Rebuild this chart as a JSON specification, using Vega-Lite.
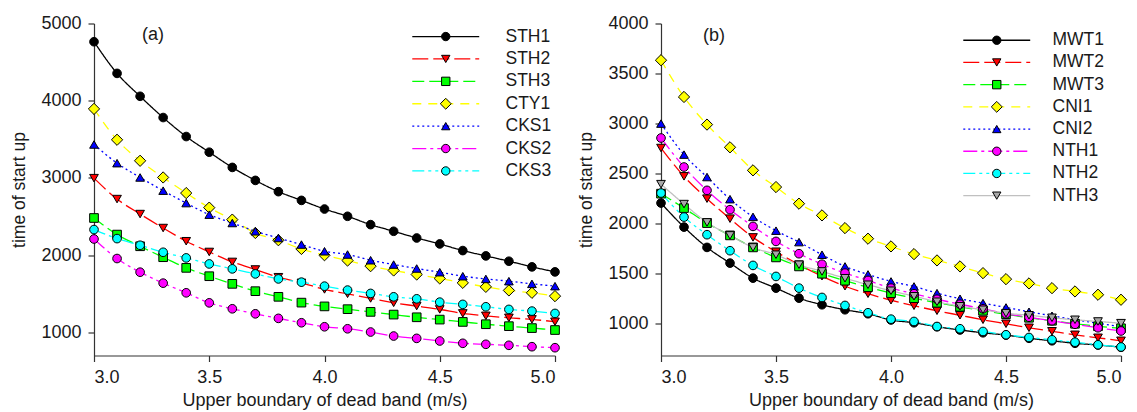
{
 "$schema": "https://vega.github.io/schema/vega-lite/v6.json",
 "padding": {"left": 10, "top": 14.5, "right": 5, "bottom": 3},
 "background": "white",
 "spacing": 106,
 "bounds": "flush",
 "config": {
  "font": "Liberation Sans",
  "view": {"stroke": null},
  "axis": {"grid": false, "domainColor": "#333333", "domainWidth": 1.2, "tickColor": "#333333", "tickWidth": 1.2, "tickSize": 6, "labelFontSize": 18, "labelColor": "#1a1a1a", "titleFontSize": 17.5, "titleFontWeight": "normal", "titleColor": "#1a1a1a", "labelPadding": 7, "titlePadding": 12},
  "axisX": {"titlePadding": 5, "titleFontSize": 18},
  "legend": {"labelFontSize": 17.5, "labelColor": "#1a1a1a", "padding": 0},
  "text": {"font": "Liberation Sans"}
 },
 "resolve": {
  "scale": {"stroke": "independent", "strokeDash": "independent", "fill": "independent", "shape": "independent"},
  "legend": {"stroke": "independent", "strokeDash": "independent", "fill": "independent", "shape": "independent"}
 },
 "hconcat": [
  {
   "width": 461,
   "height": 332,
   "data": {"values": [
    {"x": 3.0, "STH1": 4764, "STH2": 2997, "STH3": 2481, "CTY1": 3894, "CKS1": 3433, "CKS2": 2209, "CKS3": 2331},
    {"x": 3.1, "STH1": 4354, "STH2": 2726, "STH3": 2266, "CTY1": 3494, "CKS1": 3191, "CKS2": 1956, "CKS3": 2214},
    {"x": 3.2, "STH1": 4057, "STH2": 2532, "STH3": 2115, "CTY1": 3222, "CKS1": 3006, "CKS2": 1779, "CKS3": 2128},
    {"x": 3.3, "STH1": 3782, "STH2": 2351, "STH3": 1973, "CTY1": 3006, "CKS1": 2835, "CKS2": 1637, "CKS3": 2037},
    {"x": 3.4, "STH1": 3536, "STH2": 2180, "STH3": 1835, "CTY1": 2804, "CKS1": 2674, "CKS2": 1512, "CKS3": 1964},
    {"x": 3.5, "STH1": 3333, "STH2": 2041, "STH3": 1727, "CTY1": 2615, "CKS1": 2524, "CKS2": 1382, "CKS3": 1886},
    {"x": 3.6, "STH1": 3136, "STH2": 1912, "STH3": 1628, "CTY1": 2460, "CKS1": 2416, "CKS2": 1305, "CKS3": 1822},
    {"x": 3.7, "STH1": 2968, "STH2": 1814, "STH3": 1533, "CTY1": 2287, "CKS1": 2309, "CKS2": 1240, "CKS3": 1757},
    {"x": 3.8, "STH1": 2822, "STH2": 1714, "STH3": 1460, "CTY1": 2193, "CKS1": 2222, "CKS2": 1181, "CKS3": 1692},
    {"x": 3.9, "STH1": 2709, "STH2": 1641, "STH3": 1385, "CTY1": 2080, "CKS1": 2137, "CKS2": 1124, "CKS3": 1650},
    {"x": 4.0, "STH1": 2597, "STH2": 1556, "STH3": 1336, "CTY1": 1999, "CKS1": 2050, "CKS2": 1072, "CKS3": 1598},
    {"x": 4.1, "STH1": 2503, "STH2": 1499, "STH3": 1300, "CTY1": 1930, "CKS1": 2008, "CKS2": 1046, "CKS3": 1547},
    {"x": 4.2, "STH1": 2395, "STH2": 1439, "STH3": 1265, "CTY1": 1857, "CKS1": 1934, "CKS2": 1004, "CKS3": 1504},
    {"x": 4.3, "STH1": 2309, "STH2": 1382, "STH3": 1230, "CTY1": 1801, "CKS1": 1878, "CKS2": 952, "CKS3": 1460},
    {"x": 4.4, "STH1": 2222, "STH2": 1340, "STH3": 1195, "CTY1": 1749, "CKS1": 1827, "CKS2": 922, "CKS3": 1434},
    {"x": 4.5, "STH1": 2145, "STH2": 1297, "STH3": 1165, "CTY1": 1698, "CKS1": 1779, "CKS2": 888, "CKS3": 1391},
    {"x": 4.6, "STH1": 2059, "STH2": 1245, "STH3": 1135, "CTY1": 1641, "CKS1": 1727, "CKS2": 858, "CKS3": 1362},
    {"x": 4.7, "STH1": 1990, "STH2": 1214, "STH3": 1105, "CTY1": 1589, "CKS1": 1692, "CKS2": 845, "CKS3": 1331},
    {"x": 4.8, "STH1": 1921, "STH2": 1188, "STH3": 1080, "CTY1": 1543, "CKS1": 1663, "CKS2": 832, "CKS3": 1297},
    {"x": 4.9, "STH1": 1848, "STH2": 1168, "STH3": 1055, "CTY1": 1512, "CKS1": 1628, "CKS2": 814, "CKS3": 1275},
    {"x": 5.0, "STH1": 1783, "STH2": 1137, "STH3": 1030, "CTY1": 1469, "CKS1": 1598, "CKS2": 801, "CKS3": 1245}
   ]},
   "transform": [{"fold": ["STH1", "STH2", "STH3", "CTY1", "CKS1", "CKS2", "CKS3"], "as": ["series", "value"]}],
   "layer": [
    {
     "mark": {"type": "line", "interpolate": "monotone", "strokeWidth": 1.3},
     "encoding": {
      "x": {"field": "x", "type": "quantitative", "scale": {"domain": [3, 5], "nice": false, "zero": false}, "axis": {"values": [3, 3.5, 4, 4.5, 5], "format": ".1f", "title": "Upper boundary of dead band (m/s)"}},
      "y": {"field": "value", "type": "quantitative", "scale": {"domain": [700, 5000], "nice": false, "zero": false}, "axis": {"values": [1000, 2000, 3000, 4000, 5000], "format": "d", "title": "time of start up"}},
      "stroke": {"field": "series", "type": "nominal",
       "scale": {"domain": ["STH1", "STH2", "STH3", "CTY1", "CKS1", "CKS2", "CKS3"], "range": ["#000000", "#ff0000", "#00ff00", "#ffff00", "#0000ff", "#ff00ff", "#00ffff"]},
       "legend": {"orient": "none", "legendX": 343, "legendY": 4.3, "title": null, "symbolType": "M-8,0H8", "symbolSize": 70, "symbolStrokeWidth": 1.3, "labelOpacity": 0, "labelFontSize": 17.5, "labelOffset": 51, "rowPadding": 3.4, "padding": 0}},
      "strokeDash": {"field": "series", "type": "nominal",
       "scale": {"domain": ["STH1", "STH2", "STH3", "CTY1", "CKS1", "CKS2", "CKS3"], "range": [[1, 0], [16, 5], [12, 5], [9, 7], [2, 3], [14, 4, 3, 4], [12, 4, 3, 4, 3, 4]]}}
     }
    },
    {
     "mark": {"type": "point", "filled": true, "size": 75, "stroke": "black", "strokeWidth": 1, "opacity": 1},
     "encoding": {
      "x": {"field": "x", "type": "quantitative"},
      "y": {"field": "value", "type": "quantitative"},
      "fill": {"field": "series", "type": "nominal", "sort": null,
       "scale": {"range": ["#000000", "#ff0000", "#00ff00", "#ffff00", "#0000ff", "#ff00ff", "#00ffff"]},
       "legend": {"orient": "none", "legendX": 343, "legendY": 4.3, "title": null, "symbolSize": 70, "symbolStrokeColor": "black", "symbolStrokeWidth": 1, "symbolOpacity": 1, "labelFontSize": 17.5, "labelColor": "#1a1a1a", "labelOffset": 51, "rowPadding": 3.4, "padding": 0}},
      "shape": {"field": "series", "type": "nominal", "sort": null,
       "scale": {"range": ["circle", "triangle-down", "square", "M0,-1.3L1.3,0L0,1.3L-1.3,0Z", "triangle-up", "circle", "circle"]}}
     }
    },
    {
     "data": {"values": [{"label": "(a)"}]},
     "mark": {"type": "text", "fontSize": 18, "color": "#1a1a1a", "align": "center", "baseline": "middle"},
     "encoding": {
      "x": {"datum": 3.256, "type": "quantitative"},
      "y": {"datum": 4854, "type": "quantitative"},
      "text": {"field": "label"}
     }
    }
   ]
  },
  {
   "width": 460,
   "height": 332,
   "data": {"values": [
    {"x": 3.0, "MWT1": 2206, "MWT2": 2756, "MWT3": 2300, "CNI1": 3633, "CNI2": 3000, "NTH1": 2856, "NTH2": 2306, "NTH3": 2395},
    {"x": 3.1, "MWT1": 1966, "MWT2": 2473, "MWT3": 2156, "CNI1": 3266, "CNI2": 2690, "NTH1": 2566, "NTH2": 2066, "NTH3": 2196},
    {"x": 3.2, "MWT1": 1763, "MWT2": 2250, "MWT3": 2006, "CNI1": 2990, "CNI2": 2466, "NTH1": 2333, "NTH2": 1890, "NTH3": 2013},
    {"x": 3.3, "MWT1": 1606, "MWT2": 2050, "MWT3": 1883, "CNI1": 2763, "CNI2": 2245, "NTH1": 2140, "NTH2": 1730, "NTH3": 1883},
    {"x": 3.4, "MWT1": 1456, "MWT2": 1863, "MWT3": 1763, "CNI1": 2533, "CNI2": 2068, "NTH1": 1973, "NTH2": 1583, "NTH3": 1763},
    {"x": 3.5, "MWT1": 1356, "MWT2": 1720, "MWT3": 1663, "CNI1": 2366, "CNI2": 1930, "NTH1": 1823, "NTH2": 1473, "NTH3": 1690},
    {"x": 3.6, "MWT1": 1256, "MWT2": 1590, "MWT3": 1573, "CNI1": 2200, "CNI2": 1816, "NTH1": 1700, "NTH2": 1356, "NTH3": 1590},
    {"x": 3.7, "MWT1": 1190, "MWT2": 1475, "MWT3": 1500, "CNI1": 2083, "CNI2": 1690, "NTH1": 1595, "NTH2": 1263, "NTH3": 1523},
    {"x": 3.8, "MWT1": 1140, "MWT2": 1375, "MWT3": 1430, "CNI1": 1956, "CNI2": 1573, "NTH1": 1506, "NTH2": 1183, "NTH3": 1455},
    {"x": 3.9, "MWT1": 1100, "MWT2": 1300, "MWT3": 1365, "CNI1": 1850, "CNI2": 1493, "NTH1": 1433, "NTH2": 1110, "NTH3": 1390},
    {"x": 4.0, "MWT1": 1038, "MWT2": 1235, "MWT3": 1306, "CNI1": 1773, "CNI2": 1423, "NTH1": 1356, "NTH2": 1046, "NTH3": 1330},
    {"x": 4.1, "MWT1": 1010, "MWT2": 1180, "MWT3": 1256, "CNI1": 1696, "CNI2": 1373, "NTH1": 1300, "NTH2": 1023, "NTH3": 1275},
    {"x": 4.2, "MWT1": 970, "MWT2": 1130, "MWT3": 1210, "CNI1": 1633, "CNI2": 1306, "NTH1": 1245, "NTH2": 973, "NTH3": 1220},
    {"x": 4.3, "MWT1": 938, "MWT2": 1085, "MWT3": 1170, "CNI1": 1573, "CNI2": 1250, "NTH1": 1195, "NTH2": 950, "NTH3": 1175},
    {"x": 4.4, "MWT1": 910, "MWT2": 1040, "MWT3": 1130, "CNI1": 1506, "CNI2": 1206, "NTH1": 1150, "NTH2": 923, "NTH3": 1140},
    {"x": 4.5, "MWT1": 887, "MWT2": 1000, "MWT3": 1095, "CNI1": 1446, "CNI2": 1163, "NTH1": 1100, "NTH2": 890, "NTH3": 1106},
    {"x": 4.6, "MWT1": 855, "MWT2": 960, "MWT3": 1060, "CNI1": 1403, "CNI2": 1120, "NTH1": 1065, "NTH2": 863, "NTH3": 1085},
    {"x": 4.7, "MWT1": 830, "MWT2": 925, "MWT3": 1030, "CNI1": 1356, "CNI2": 1080, "NTH1": 1030, "NTH2": 840, "NTH3": 1060},
    {"x": 4.8, "MWT1": 805, "MWT2": 890, "MWT3": 1000, "CNI1": 1323, "CNI2": 1040, "NTH1": 995, "NTH2": 816, "NTH3": 1040},
    {"x": 4.9, "MWT1": 788, "MWT2": 860, "MWT3": 975, "CNI1": 1290, "CNI2": 1005, "NTH1": 960, "NTH2": 790, "NTH3": 1023},
    {"x": 5.0, "MWT1": 765, "MWT2": 830, "MWT3": 955, "CNI1": 1240, "CNI2": 970, "NTH1": 928, "NTH2": 768, "NTH3": 1006}
   ]},
   "transform": [{"fold": ["MWT1", "MWT2", "MWT3", "CNI1", "CNI2", "NTH1", "NTH2", "NTH3"], "as": ["series", "value"]}],
   "layer": [
    {
     "mark": {"type": "line", "interpolate": "monotone", "strokeWidth": 1.3},
     "encoding": {
      "x": {"field": "x", "type": "quantitative", "scale": {"domain": [3, 5], "nice": false, "zero": false}, "axis": {"values": [3, 3.5, 4, 4.5, 5], "format": ".1f", "title": "Upper boundary of dead band (m/s)"}},
      "y": {"field": "value", "type": "quantitative", "scale": {"domain": [683, 4000], "nice": false, "zero": false}, "axis": {"values": [1000, 1500, 2000, 2500, 3000, 3500, 4000], "format": "d", "title": "time of start up"}},
      "stroke": {"field": "series", "type": "nominal",
       "scale": {"domain": ["MWT1", "MWT2", "MWT3", "CNI1", "CNI2", "NTH1", "NTH2", "NTH3"], "range": ["#000000", "#ff0000", "#00ff00", "#ffff00", "#0000ff", "#ff00ff", "#00ffff", "#c0c0c0"]},
       "legend": {"orient": "none", "legendX": 327, "legendY": 8, "title": null, "symbolType": "M-8,0H8", "symbolSize": 70, "symbolStrokeWidth": 1.3, "labelOpacity": 0, "labelFontSize": 17.5, "labelOffset": 47, "rowPadding": 3.2, "padding": 0}},
      "strokeDash": {"field": "series", "type": "nominal",
       "scale": {"domain": ["MWT1", "MWT2", "MWT3", "CNI1", "CNI2", "NTH1", "NTH2", "NTH3"], "range": [[1, 0], [16, 5], [12, 5], [9, 7], [2, 3], [14, 4, 3, 4], [12, 4, 3, 4, 3, 4], [1, 0]]}}
     }
    },
    {
     "mark": {"type": "point", "filled": true, "size": 75, "stroke": "black", "strokeWidth": 1, "opacity": 1},
     "encoding": {
      "x": {"field": "x", "type": "quantitative"},
      "y": {"field": "value", "type": "quantitative"},
      "fill": {"field": "series", "type": "nominal", "sort": null,
       "scale": {"range": ["#000000", "#ff0000", "#00ff00", "#ffff00", "#0000ff", "#ff00ff", "#00ffff", "#a8a8a8"]},
       "legend": {"orient": "none", "legendX": 327, "legendY": 8, "title": null, "symbolSize": 70, "symbolStrokeColor": "black", "symbolStrokeWidth": 1, "symbolOpacity": 1, "labelFontSize": 17.5, "labelColor": "#1a1a1a", "labelOffset": 47, "rowPadding": 3.2, "padding": 0}},
      "shape": {"field": "series", "type": "nominal", "sort": null,
       "scale": {"range": ["circle", "triangle-down", "square", "M0,-1.3L1.3,0L0,1.3L-1.3,0Z", "triangle-up", "circle", "circle", "triangle-down"]}}
     }
    },
    {
     "data": {"values": [{"label": "(b)"}]},
     "mark": {"type": "text", "fontSize": 18, "color": "#1a1a1a", "align": "center", "baseline": "middle"},
     "encoding": {
      "x": {"datum": 3.23, "type": "quantitative"},
      "y": {"datum": 3873, "type": "quantitative"},
      "text": {"field": "label"}
     }
    }
   ]
  }
 ]
}
